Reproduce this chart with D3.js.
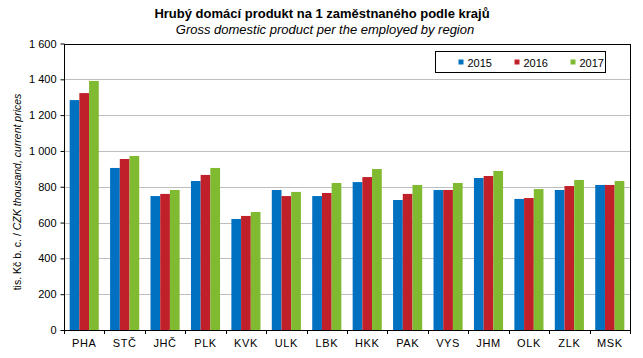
<!DOCTYPE html>
<html>
<head>
<meta charset="utf-8">
<script src="https://cdn.jsdelivr.net/npm/d3@7"></script>
<style>
  body { margin: 0; background: #fff; }
  svg { display: block; font-family: "Liberation Sans", Arial, sans-serif; }
</style>
</head>
<body>
<div id="chart"></div>
<script>
const regions = ['PHA', 'STČ', 'JHČ', 'PLK', 'KVK', 'ULK', 'LBK', 'HKK', 'PAK', 'VYS', 'JHM', 'OLK', 'ZLK', 'MSK'];
const years = ['2015', '2016', '2017'];
const gdp2015 = [1284, 905, 748, 832, 620, 782, 748, 826, 726, 782, 849, 732, 782, 810];
const gdp2016 = [1323, 955, 760, 866, 637, 748, 765, 854, 760, 782, 860, 737, 804, 810];
const gdp2017 = [1391, 972, 782, 905, 659, 771, 821, 899, 810, 821, 888, 787, 838, 832];
const yTicks = [0, 200, 400, 600, 800, 1000, 1200, 1400, 1600];
const colors = ['#0070C0', '#C0202A', '#80BA30'];

const series = [gdp2015, gdp2016, gdp2017];
const width = 643, height = 358;
const margin = { top: 43.5, right: 13, bottom: 28, left: 64 };

const svg = d3.select('#chart').append('svg')
  .attr('width', width)
  .attr('height', height);

const x = d3.scaleBand().domain(regions).range([margin.left, width - margin.right]).paddingInner(0.28).paddingOuter(0.14);
const xs = d3.scaleBand().domain(years).range([0, x.bandwidth()]);
const y = d3.scaleLinear().domain([0, 1600]).range([height - margin.bottom, margin.top]);

const fmt = v => v >= 1000 ? d3.format(',')(v).replace(',', ' ') : String(v);

// title
svg.append('text')
  .attr('x', 322).attr('y', 18)
  .attr('text-anchor', 'middle')
  .attr('font-size', 13).attr('font-weight', 'bold')
  .text('Hrubý domácí produkt na 1 zaměstnaného podle krajů');
svg.append('text')
  .attr('x', 325).attr('y', 34)
  .attr('text-anchor', 'middle')
  .attr('font-size', 13).attr('font-style', 'italic')
  .text('Gross domestic product per the employed by region');

// grid
svg.append('g')
  .selectAll('line')
  .data(yTicks.slice(1))
  .enter().append('line')
  .attr('x1', margin.left).attr('x2', width - margin.right)
  .attr('y1', d => Math.round(y(d)) + 0.5).attr('y2', d => Math.round(y(d)) + 0.5)
  .attr('stroke', '#BEBEBE').attr('stroke-width', 1);

// bars
const groups = svg.append('g')
  .selectAll('g')
  .data(regions)
  .enter().append('g')
  .attr('transform', d => `translate(${x(d)},0)`);

groups.selectAll('rect')
  .data((d, i) => years.map((yr, k) => ({ yr, v: series[k][i], k })))
  .enter().append('rect')
  .attr('x', d => xs(d.yr))
  .attr('width', xs.bandwidth())
  .attr('y', d => y(d.v))
  .attr('height', d => y(0) - y(d.v))
  .attr('fill', d => colors[d.k]);

// plot frame
svg.append('rect')
  .attr('x', margin.left + 0.5).attr('y', Math.round(y(1600)) + 0.5)
  .attr('width', width - margin.right - margin.left)
  .attr('height', Math.round(y(0)) - Math.round(y(1600)))
  .attr('fill', 'none').attr('stroke', '#000').attr('stroke-width', 1);

// y axis
const yAxis = svg.append('g')
  .attr('transform', `translate(${margin.left + 0.5},0)`)
  .call(d3.axisLeft(y).tickValues(yTicks).tickFormat(fmt).tickSize(4).tickPadding(4));
yAxis.select('.domain').remove();
yAxis.selectAll('line').attr('stroke', '#000');
yAxis.selectAll('text').attr('font-size', 11).attr('fill', '#000')
  .attr('font-family', '"Liberation Sans", Arial, sans-serif');

// x axis: ticks between categories
const bounds = d3.range(regions.length + 1).map(i => margin.left + i * (width - margin.right - margin.left) / regions.length);
svg.append('g')
  .selectAll('line')
  .data(bounds)
  .enter().append('line')
  .attr('x1', d => Math.round(d) + 0.5).attr('x2', d => Math.round(d) + 0.5)
  .attr('y1', y(0)).attr('y2', y(0) + 4)
  .attr('stroke', '#000');

svg.append('g')
  .selectAll('text')
  .data(regions)
  .enter().append('text')
  .attr('x', d => x(d) + x.bandwidth() / 2)
  .attr('y', height - 11)
  .attr('text-anchor', 'middle')
  .attr('font-size', 11)
  .attr('letter-spacing', 0.6)
  .text(d => d);

// y axis title
const yt = svg.append('text')
  .attr('transform', 'translate(21,192) rotate(-90)')
  .attr('text-anchor', 'middle')
  .attr('font-size', 10.5);
yt.append('tspan').text('tis. Kč b. c. / ');
yt.append('tspan').attr('font-style', 'italic').text('CZK thousand, current prices');

// legend
const lg = svg.append('g').attr('transform', 'translate(435.5,51.5)');
lg.append('rect').attr('width', 170).attr('height', 21)
  .attr('fill', '#fff').attr('stroke', '#000');
const lx = d3.scalePoint().domain(years).range([23, 135]);
const item = lg.selectAll('g.item').data(years).enter().append('g')
  .attr('transform', d => `translate(${lx(d)},0)`);
item.append('rect').attr('x', 0).attr('y', 8).attr('width', 5).attr('height', 5)
  .attr('fill', (d, i) => colors[i]);
item.append('text').attr('x', 9).attr('y', 15)
  .attr('font-size', 11).text(d => d);
</script>
</body>
</html>
